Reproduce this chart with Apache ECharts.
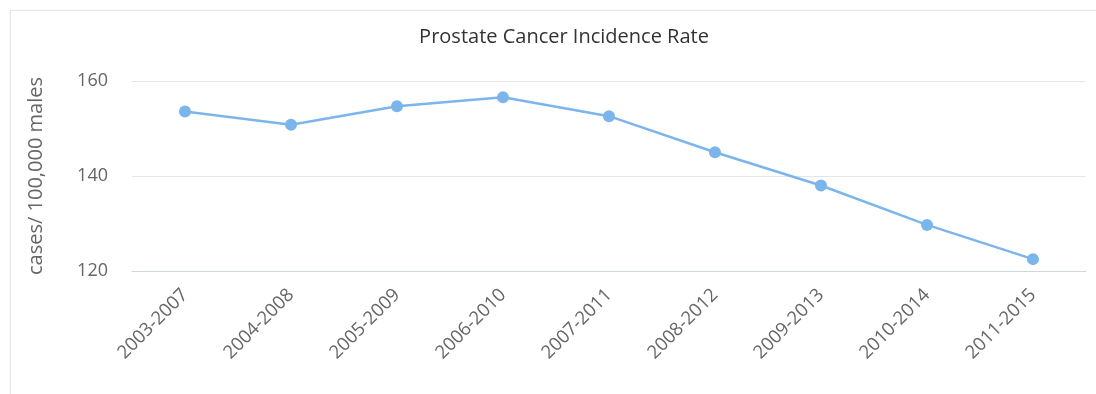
<!DOCTYPE html>
<html>
<head>
<meta charset="utf-8">
<script src="https://cdn.jsdelivr.net/npm/echarts@6/dist/echarts.min.js"></script>
<style>
html,body{margin:0;padding:0;background:#fff;}
#frame{position:absolute;left:10px;top:10px;width:1100px;height:400px;border:1px solid #e6e6e6;box-shadow:0 0 2px #eee;}
#chart{position:absolute;left:0;top:0;width:1096px;height:394px;}
</style>
</head>
<body>
<div id="frame"></div>
<div id="chart"></div>
<script>
const titleText = "Prostate Cancer Incidence Rate";
const yAxisName = "cases/ 100,000 males";
const categories = ["2003-2007","2004-2008","2005-2009","2006-2010","2007-2011","2008-2012","2009-2013","2010-2014","2011-2015"];
const rates = [153.6, 150.8, 154.7, 156.6, 152.6, 145.0, 138.0, 129.7, 122.5];
const yTicks = [120, 140, 160];

const chart = echarts.init(document.getElementById('chart'), null, {renderer:'canvas'});
chart.setOption({
  animation: false,
  title: {
    text: titleText, left: 559, top: 22, textAlign: 'center',
    textStyle: {fontFamily: 'Open Sans', fontSize: 20, fontWeight: 'normal', color: '#333'}
  },
  grid: {left: 132, right: 10, top: 81, bottom: 123},
  xAxis: {
    type: 'category', data: categories, boundaryGap: true,
    axisLine: {lineStyle: {color: '#d0d6e0'}},
    axisTick: {show: false},
    axisLabel: {rotate: 45, color: '#666', fontFamily: 'Open Sans', fontSize: 18.5, margin: 21, interval: 0}
  },
  yAxis: {
    type: 'value', min: yTicks[0], max: yTicks[yTicks.length-1], interval: 20,
    name: yAxisName, nameLocation: 'middle', nameGap: 86, nameRotate: 90,
    nameTextStyle: {color: '#666', fontFamily: 'Open Sans', fontSize: 20},
    axisLine: {show: false}, axisTick: {show: false},
    axisLabel: {color: '#666', fontFamily: 'Open Sans', fontSize: 18, margin: 24},
    splitLine: {lineStyle: {color: '#e6e6e6'}}
  },
  series: [{
    type: 'line', data: rates,
    lineStyle: {color: '#7cb5ec', width: 2.5},
    itemStyle: {color: '#7cb5ec'},
    symbol: 'circle', symbolSize: 12
  }]
});
</script>
</body>
</html>
